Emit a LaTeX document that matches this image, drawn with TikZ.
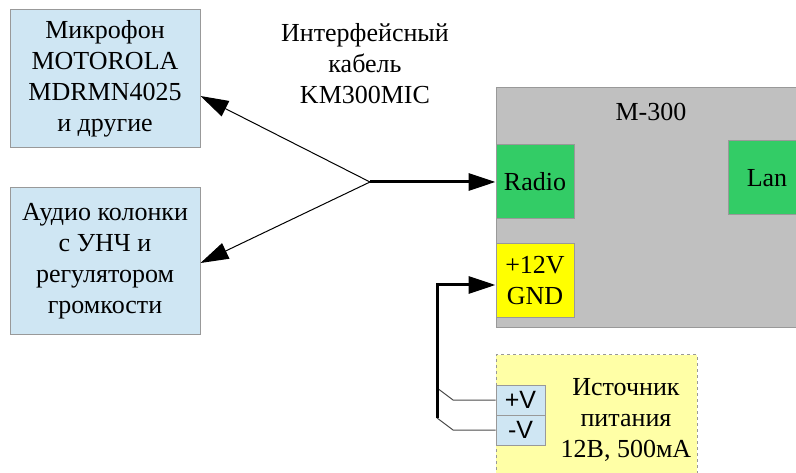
\documentclass[tikz,border=0pt]{standalone}
\usepackage{fontspec}
\setmainfont{Liberation Serif}
\newfontfamily\arialf{Liberation Sans}
\usetikzlibrary{arrows.meta,calc}
\definecolor{boxblue}{HTML}{CFE6F3}
\definecolor{boxgray}{HTML}{C0C0C0}
\definecolor{boxgreen}{HTML}{33CC66}
\definecolor{boxyellow}{HTML}{FFFF00}
\definecolor{paleyellow}{HTML}{FFFFA6}
\definecolor{edgegray}{HTML}{999999}
\tikzset{
  txt/.style={font=\fontsize{26}{31}\selectfont, align=center, inner sep=0pt},
  bluebox/.style={txt, draw=edgegray, fill=boxblue, line width=1pt},
  graybox/.style={draw=edgegray, fill=boxgray, line width=1pt, inner sep=0pt},
  greenbox/.style={txt, draw=edgegray, fill=boxgreen, line width=1pt, minimum width=78pt, minimum height=74pt},
  yelbox/.style={txt, draw=edgegray, fill=boxyellow, line width=1pt, minimum width=78pt, minimum height=74pt},
  psbox/.style={draw=edgegray, dashed, fill=paleyellow, line width=1pt, inner sep=0pt},
  pin/.style={draw=edgegray, fill=boxblue, line width=1pt, inner sep=0pt, minimum width=49pt, minimum height=30pt, font=\arialf\fontsize{25}{30}\selectfont},
  thinarrow/.style={line width=1pt, -{Triangle[length=28pt,width=17pt]}},
  thickarrow/.style={line width=3pt, -{Triangle[length=27pt,width=17pt]}},
  thinwire/.style={line width=1pt, draw=black!70},
  thickwire/.style={line width=3pt}
}
\begin{document}
\begin{tikzpicture}[x=1pt,y=-1pt]
\useasboundingbox (0,0) rectangle (796,473);
\clip (0,0) rectangle (796,473);
% left boxes
\node[bluebox, minimum width=190pt, minimum height=138pt] (mic) at (105,79)
  {Микрофон\\MOTOROLA\\MDRMN4025\\и другие};
\node[bluebox, minimum width=190pt, minimum height=147pt] (audio) at (105,261.5)
  {Аудио колонки\\с УНЧ и\\регулятором\\громкости};
% cable label
\node[txt] (cable) at (365,64) {Интерфейсный\\кабель\\KM300MIC};
% M-300
\node[graybox, minimum width=310pt, minimum height=240pt] (m300) at (651,208) {};
\node[txt] (m300t) at (651,112) {M-300};
\node[greenbox] (radio) at (535,182) {Radio};
\node[greenbox] (lan) at (767,178) {Lan};
\node[yelbox] (pwr) at (535,281) {+12V\\GND};
% power supply
\node[psbox, minimum width=201pt, minimum height=140pt] (ps) at (596.5,425) {};
\node[txt] (pst) at (626,420) {Источник\\питания\\12В, 500мА};
\node[pin] (pv) at (520.5,400) {+V};
\node[pin] (mv) at (520.5,430) {-V};
% cable junction
\coordinate (j) at (370,182);
\draw[thickarrow] (j) -- (radio.west);
\draw[thinarrow] (j) -- ([yshift=-17pt]mic.east);
\draw[thinarrow] (j) -- ([yshift=-1.5pt]audio.east);
% power wires
\coordinate (wtop) at (437,388);
\coordinate (wbot) at (437,418);
\draw[thinwire] (pv.west) -- (453,400) -- (wtop);
\draw[thinwire] (mv.west) -- (453,430) -- (wbot);
\draw[thickarrow] (wbot) -- (437,285) -- ([yshift=-4pt]pwr.west);
\end{tikzpicture}
\end{document}
